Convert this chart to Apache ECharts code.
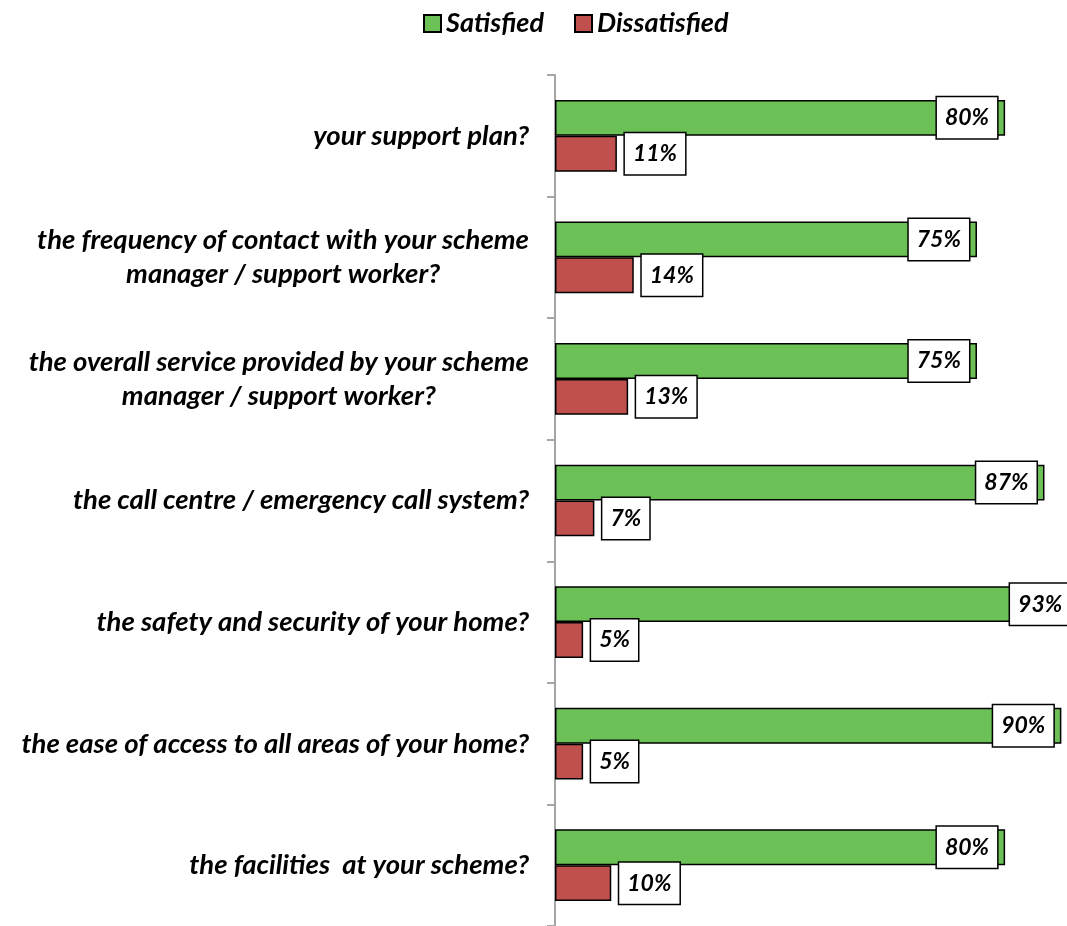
<!DOCTYPE html>
<html>
<head>
<meta charset="utf-8">
<title>Satisfaction with support services</title>
<script src="https://cdn.jsdelivr.net/npm/echarts@6/dist/echarts.min.js"></script>
<style>
  html, body { margin: 0; padding: 0; background: #fff; }
  #chart { width: 1067px; height: 926px; }
</style>
</head>
<body>
<div id="chart"></div>
<script>
// Survey questions, top to bottom
const categories = [
  'your support plan?',
  'the frequency of contact with your scheme\nmanager / support worker?',
  'the overall service provided by your scheme\nmanager / support worker?',
  'the call centre / emergency call system?',
  'the safety and security of your home?',
  'the ease of access to all areas of your home?',
  'the facilities  at your scheme?'
];

// Percentages per question
const satisfied    = [80, 75, 75, 87, 93, 90, 80];
const dissatisfied = [11, 14, 13, 7, 5, 5, 10];

const FONT = 'Lato, "Open Sans", sans-serif';
const GREEN = '#6bc155';
const RED = '#c0504d';

const labelBox = {
  show: true,
  formatter: '{c}%',
  color: '#000',
  fontFamily: FONT,
  fontWeight: 'bold',
  fontStyle: 'italic',
  fontSize: 23,
  backgroundColor: '#fff',
  borderColor: '#000',
  borderWidth: 1.5,
  padding: [10, 8, 8, 8]
};

const chart = echarts.init(document.getElementById('chart'), null, { renderer: 'canvas' });

chart.setOption({
  animation: false,
  legend: {
    top: 5,
    left: 418,
    itemWidth: 17,
    itemHeight: 17,
    itemGap: 30,
    icon: 'rect',
    textStyle: {
      fontFamily: FONT,
      fontWeight: 'bold',
      fontStyle: 'italic',
      fontSize: 27,
      color: '#000'
    },
    data: ['Satisfied', 'Dissatisfied']
  },
  grid: {
    left: 555,
    top: 75,
    right: 0,
    bottom: -5
  },
  xAxis: {
    type: 'value',
    min: 0,
    max: 91,
    show: false
  },
  yAxis: {
    type: 'category',
    inverse: true,
    data: categories,
    axisLine: { show: true, lineStyle: { color: '#a6a6a6', width: 2 } },
    axisTick: { show: true, length: 8, lineStyle: { color: '#a6a6a6', width: 2 } },
    axisLabel: {
      margin: 26,
      color: '#000',
      fontFamily: FONT,
      fontWeight: 'bold',
      fontStyle: 'italic',
      fontSize: 27.5,
      lineHeight: 34,
      formatter: function (v) {
        return v.split('\n').map(function (line) { return '{c|' + line + '}'; }).join('\n');
      },
      rich: {
        c: {
          align: 'center',
          fontFamily: FONT,
          fontWeight: 'bold',
          fontStyle: 'italic',
          fontSize: 27.5,
          lineHeight: 34,
          color: '#000'
        }
      }
    }
  },
  series: [
    {
      name: 'Satisfied',
      type: 'bar',
      data: satisfied,
      clip: false,
      barGap: 0,
      barCategoryGap: '41%',
      itemStyle: { color: GREEN, borderColor: '#000', borderWidth: 1.5 },
      label: Object.assign({}, labelBox, { position: 'insideRight', distance: 8 })
    },
    {
      name: 'Dissatisfied',
      type: 'bar',
      data: dissatisfied,
      clip: false,
      barGap: 0,
      barCategoryGap: '41%',
      itemStyle: { color: RED, borderColor: '#000', borderWidth: 1.5 },
      label: Object.assign({}, labelBox, { position: 'right', distance: 8 })
    }
  ]
});
</script>
</body>
</html>
